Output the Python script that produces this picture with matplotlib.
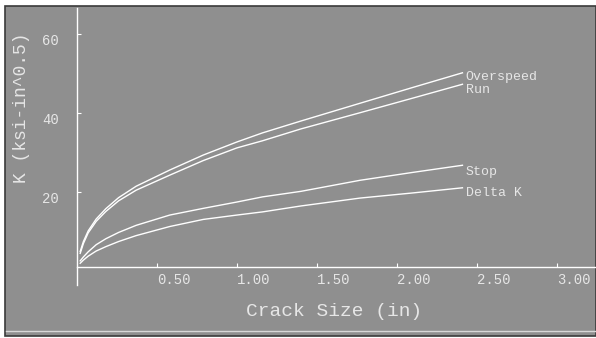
import matplotlib.pyplot as plt
from matplotlib.patches import Rectangle
from matplotlib.lines import Line2D

# crack size (in) and stress intensity K (ksi-in^0.5)
crack_size = [0.02, 0.04, 0.07, 0.12, 0.18, 0.26, 0.37, 0.58, 0.79, 1.00, 1.16, 1.40, 1.77, 2.10, 2.41]
overspeed = [5.0, 7.5, 10.2, 13.2, 15.8, 18.6, 21.5, 25.6, 29.4, 32.7, 35.0, 38.0, 42.5, 46.5, 50.2]
run = [4.5, 7.0, 9.7, 12.6, 15.1, 17.8, 20.5, 24.3, 28.0, 31.2, 33.0, 36.0, 40.1, 43.8, 47.3]
stop = [2.6, 3.6, 4.9, 6.7, 8.2, 9.8, 11.6, 14.2, 15.9, 17.5, 18.8, 20.2, 23.0, 25.0, 26.8]
delta_k = [2.0, 2.8, 3.8, 5.1, 6.2, 7.5, 9.0, 11.3, 13.1, 14.2, 15.0, 16.5, 18.5, 19.8, 21.1]

series = {"Overspeed": overspeed, "Run": run, "Stop": stop, "Delta K": delta_k}
label_y = {"Overspeed": 49.2, "Run": 45.9, "Stop": 25.1, "Delta K": 19.7}

x_ticks = [0.5, 1.0, 1.5, 2.0, 2.5, 3.0]
x_tick_labels = ["0.50", "1.00", "1.50", "2.00", "2.50", "3.00"]
y_ticks = [20, 40, 60]
y_tick_labels = ["20", "40", "60"]

bg = "#8f8f8f"
fg = "#e6e6e6"
mono = ["Liberation Mono", "DejaVu Sans Mono"]

W, H = 596, 338
fig = plt.figure(figsize=(W / 100, H / 100), dpi=100, facecolor="white")

# grey screen panel
fig.patches.append(Rectangle((5 / W, 2 / H), 1 - 5 / W, 330 / H, transform=fig.transFigure,
                             facecolor=bg, edgecolor="#3a3a3a", linewidth=1.2, zorder=-10))
fig.lines.append(Line2D([6 / W, 1], [(H - 331) / H] * 2, transform=fig.transFigure,
                        color="#d8d8d8", linewidth=1.0, zorder=-5))

ax = fig.add_axes([77 / W, (H - 285) / H, 1 - 77 / W, (285 - 8) / H])
ax.set_facecolor("none")
ax.set_zorder(5)

for name, vals in series.items():
    ax.plot(crack_size, vals, color="white", linewidth=1.0)
    ax.text(2.43, label_y[name], name, color=fg, fontsize=9.5, family=mono,
            ha="left", va="center")

ax.set_xlim(0, 3.245)
ax.set_ylim(-3.5, 66.6)

for s in ["top", "right"]:
    ax.spines[s].set_visible(False)
ax.spines["left"].set_position(("data", 0))
ax.spines["bottom"].set_position(("data", 1))
for s in ["left", "bottom"]:
    ax.spines[s].set_color("white")
    ax.spines[s].set_linewidth(1.0)

ax.set_xticks(x_ticks)
ax.set_xticklabels(x_tick_labels, family=mono, fontsize=10, color=fg)
ax.set_yticks(y_ticks)
ax.set_yticklabels(y_tick_labels, family=mono, fontsize=10, color=fg)
ax.tick_params(axis="x", direction="in", length=3, color="white", pad=4)
ax.tick_params(axis="y", direction="in", length=3, color="white", pad=13)
plt.setp(ax.get_xticklabels(), ha="left")
plt.setp(ax.get_yticklabels(), va="top")

fig.text(334 / W, (H - 311) / H, "Crack Size (in)", family=mono, fontsize=14,
         color=fg, ha="center", va="center")
fig.text(22 / W, (H - 108) / H, "K (ksi-in^0.5)", family=mono, fontsize=13,
         color=fg, ha="center", va="center", rotation=90)

fig.savefig("out.png", dpi=100, facecolor=fig.get_facecolor())
